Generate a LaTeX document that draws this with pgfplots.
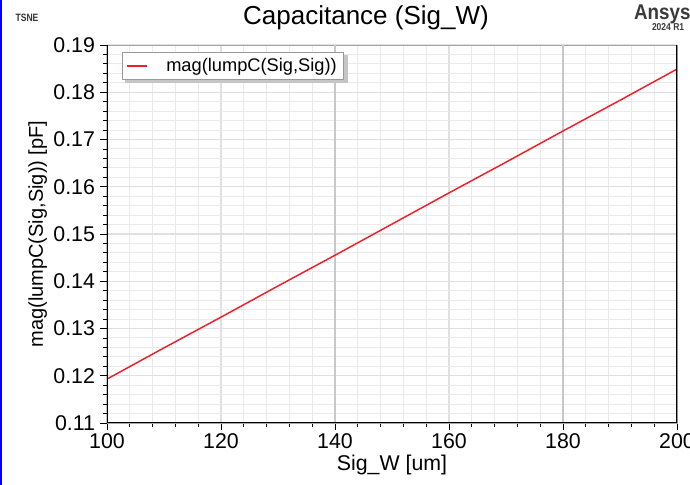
\documentclass[border=0pt]{standalone}
\usepackage{pgfplots}
\pgfplotsset{compat=1.18}
\usepackage{fontspec}
\setmainfont{Liberation Sans}
\definecolor{gridminor}{HTML}{EAEAEA}
\definecolor{gridmajor}{HTML}{E0E0E0}
\definecolor{griddark}{HTML}{C8C8C8}
\definecolor{ansysgray}{HTML}{3A3A3A}
\definecolor{plotred}{HTML}{F01E28}
\begin{document}
\begin{tikzpicture}[x=0.75pt,y=0.75pt]
\path[fill=white] (0,0) rectangle (690,485);
\draw[blue,line width=1.5pt] (0.8,0) -- (0.8,485);
\begin{axis}[
  at={(80.25pt,46.5pt)}, anchor=south west,
  scale only axis, width=427.5pt, height=283.5pt,
  xmin=100, xmax=200, ymin=0.11, ymax=0.19,
  xtick={100,120,...,200},
  ytick={0.11,0.12,...,0.19},
  minor x tick num=4, minor y tick num=4,
  grid=both,
  minor grid style={draw=gridminor,line width=0.7pt},
  major grid style={draw=gridmajor,line width=0.8pt},
  axis line style={draw=gray!70},
  tick align=outside,
  major tick length=5.5pt, minor tick length=3pt,
  tick style={black, line width=0.6pt},
  xtick pos=bottom, ytick pos=left,
  tick label style={font=\fontsize{16}{17}\selectfont},
  /pgf/number format/assume math mode=true,
  yticklabel style={/pgf/number format/fixed,/pgf/number format/fixed zerofill,/pgf/number format/precision=2, xshift=0pt},
  xticklabel style={/pgf/number format/fixed, yshift=1pt},
  xlabel={Sig\_W [um]},
  ylabel={mag(lumpC(Sig,Sig)) [pF]},
  xlabel style={font=\fontsize{16}{17}\selectfont, yshift=2pt},
  ylabel style={font=\fontsize{15}{16}\selectfont, yshift=-2pt},
  legend style={at={(0.0263,0.981)}, anchor=north west, draw=gray!80, fill=white,
    font=\fontsize{13.7}{14}\selectfont, inner xsep=3pt, inner ysep=2.5pt},
  legend image code/.code={\draw[#1, line width=1pt] (0pt,0pt) -- (15pt,0pt);},
  legend cell align=left,
  clip=true,
]
\draw[griddark, line width=0.9pt] (axis cs:140,0.11) -- (axis cs:140,0.19);
\draw[griddark, line width=0.9pt] (axis cs:180,0.11) -- (axis cs:180,0.19);
\fill[gray!45] (rel axis cs:0.032,0.900) rectangle (rel axis cs:0.423,0.974);
\addplot[color=plotred, line width=1.1pt] table[x=x,y=y] {
x y
100 0.1193
110 0.1259
120 0.1324
130 0.1390
140 0.1455
150 0.1521
160 0.1587
170 0.1652
180 0.1718
190 0.1783
200 0.1849
};
\addlegendentry{\hspace{12pt}mag(lumpC(Sig,Sig))}
\draw[black, line width=0.8pt] (rel axis cs:0,0) -- (rel axis cs:0,1);
\draw[black, line width=0.8pt] (rel axis cs:0,0) -- (rel axis cs:1,0);
\draw[black, line width=0.8pt] (rel axis cs:1,0) -- (rel axis cs:1,1);
\end{axis}
\node[font=\fontsize{19.5}{20}\selectfont] at (366,467) {Capacitance (Sig\_W)};
\node[font=\fontsize{8}{9}\selectfont\bfseries, xscale=0.8, text=black!80] at (27,467) {TSNE};
\node[font=\fontsize{16}{17}\selectfont\bfseries, text=ansysgray, anchor=west, xscale=0.88] at (630,471) {Ansys};
\node[font=\fontsize{7.5}{8}\selectfont\bfseries, text=ansysgray, anchor=west, xscale=0.85] at (648,458) {2024 R1};
\pgfresetboundingbox
\useasboundingbox (0,0) rectangle (690,485);
\end{tikzpicture}
\end{document}
